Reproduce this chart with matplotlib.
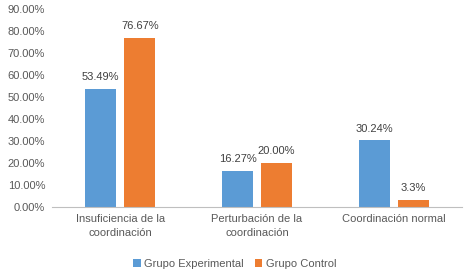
import numpy as np
import matplotlib.pyplot as plt
from matplotlib.ticker import FuncFormatter

categories = ["Insuficiencia de la\ncoordinación", "Perturbación de la\ncoordinación", "Coordinación normal"]
experimental = [53.49, 16.27, 30.24]
control = [76.67, 20.00, 3.3]
exp_labels = ["53.49%", "16.27%", "30.24%"]
ctl_labels = ["76.67%", "20.00%", "3.3%"]

plt.rcParams['font.family'] = ['Liberation Sans', 'DejaVu Sans']
txt = '#595959'
fs = 8

fig = plt.figure(figsize=(4.69, 2.78), dpi=100)
ax = fig.add_axes([0.111, 0.2554, 0.874, 0.7122])

x = np.arange(len(categories))
w = 0.227
off = 0.143
b1 = ax.bar(x - off, experimental, w, color='#5B9BD5', label='Grupo Experimental')
b2 = ax.bar(x + off, control, w, color='#ED7D31', label='Grupo Control')

for bars, labs in ((b1, exp_labels), (b2, ctl_labels)):
    for b, lab in zip(bars, labs):
        ax.annotate(lab, (b.get_x() + b.get_width() / 2, b.get_height()),
                    xytext=(0, 5), textcoords='offset points',
                    ha='center', va='bottom', fontsize=fs, color='#404040')

ax.set_xlim(-0.5, 2.5)
ax.set_ylim(0, 90)
ax.set_yticks(np.arange(0, 91, 10))
ax.yaxis.set_major_formatter(FuncFormatter(lambda v, p: "{:.2f}%".format(v)))
ax.set_xticks(x)
ax.set_xticklabels(categories, linespacing=1.55)
ax.tick_params(axis='both', length=0, labelsize=fs, colors=txt)
ax.tick_params(axis='x', pad=5)
ax.tick_params(axis='y', pad=5)
for s in ('top', 'right', 'left'):
    ax.spines[s].set_visible(False)
ax.spines['bottom'].set_color('#BFBFBF')
ax.spines['bottom'].set_linewidth(0.8)

fig.legend(handles=[b1, b2], loc='center', bbox_to_anchor=(0.5, 0.052), ncol=2,
           frameon=False, fontsize=fs, handlelength=0.7, handleheight=0.7,
           handletextpad=0.3, columnspacing=1.0, labelcolor=txt)

fig.savefig('out.png', dpi=100)
